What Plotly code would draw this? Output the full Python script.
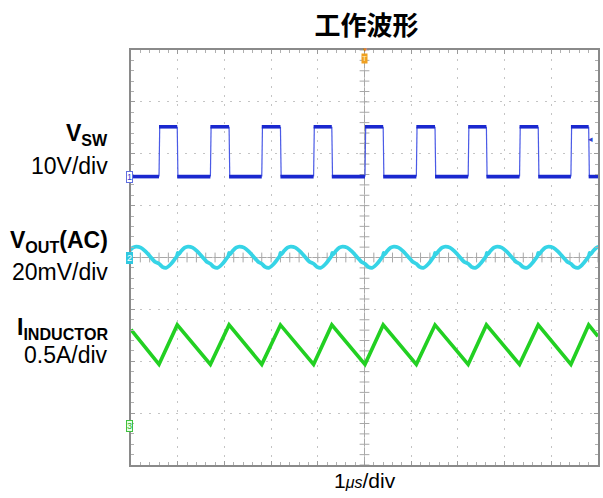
import plotly.graph_objects as go

# ---------------- data (time in µs, 1 µs/div; vertical in screen divisions) ----------------
vsw_rise = [-4.40, -3.30, -2.20, -1.09, 0.01, 1.11, 2.22, 3.32, 4.42]
vsw_fall = [-4.01, -2.90, -1.80, -0.70, 0.40, 1.51, 2.61, 3.72, 4.80]
vsw_low = 1.56
vsw_high = 2.52

vout_cycle_starts = [-5.51, -4.40, -3.30, -2.20, -1.09, 0.01, 1.11, 2.22, 3.32, 4.42]
vout_offsets = [0.00, 0.07, 0.15, 0.24, 0.33, 0.385, 0.40, 0.42, 0.48, 0.55, 0.62, 0.72, 0.82, 0.92, 1.02]
vout_values = [-0.12, -0.18, -0.20, -0.14, -0.04, 0.03, 0.09, 0.06, 0.13, 0.19, 0.21, 0.19, 0.12, 0.02, -0.08]

il_t = [-5.0, -4.40, -4.01, -3.30, -2.90, -2.20, -1.80, -1.09, -0.70, 0.01,
        0.40, 1.11, 1.51, 2.22, 2.61, 3.32, 3.72, 4.42, 4.80, 5.0]
il_v = [-1.39, -2.06, -1.30, -2.06, -1.30, -2.06, -1.30, -2.06, -1.30, -2.06,
        -1.30, -2.06, -1.30, -2.06, -1.30, -2.06, -1.30, -2.06, -1.30, -1.52]

ch_refs = [1.56, 0.0, -3.24]          # channel ground markers (divisions)
x_range = [-5, 5]
y_range = [-4, 4]

# ---------------- build traces ----------------
fig = go.Figure()

# VSW flat portions (thick, noisy look) and edges (thin)
fx, fy = [x_range[0], vsw_rise[0], None], [vsw_low, vsw_low, None]
for i, r in enumerate(vsw_rise):
    f = vsw_fall[i]
    nxt = vsw_rise[i + 1] if i + 1 < len(vsw_rise) else x_range[1]
    fx += [r, f, None, f, nxt, None]
    fy += [vsw_high, vsw_high, None, vsw_low, vsw_low, None]
ex, ey = [], []
for r in vsw_rise:
    ex += [r, r + 0.015, None]
    ey += [vsw_low, vsw_high, None]
for f in vsw_fall:
    ex += [f, f + 0.015, None]
    ey += [vsw_high, vsw_low, None]

# VOUT ripple
vx, vy = [], []
for s in vout_cycle_starts:
    for o, v in zip(vout_offsets, vout_values):
        vx.append(s + o)
        vy.append(v)

# center-cross tick marks
tick_x = [x_range[0] + 0.2 * k for k in range(51)]
tick_y = [y_range[0] + 0.2 * k for k in range(41)]
fig.add_trace(go.Scatter(x=tick_x, y=[0] * len(tick_x), mode="markers",
                         marker=dict(symbol="line-ns", size=7, line=dict(width=1, color="#a8a8a8")),
                         hoverinfo="skip", showlegend=False))
fig.add_trace(go.Scatter(x=[0] * len(tick_y), y=tick_y, mode="markers",
                         marker=dict(symbol="line-ew", size=7, line=dict(width=1, color="#a8a8a8")),
                         hoverinfo="skip", showlegend=False))

fig.add_trace(go.Scatter(x=ex, y=ey, mode="lines", line=dict(color="#4a5ae6", width=1.2),
                         hoverinfo="skip", showlegend=False))
fig.add_trace(go.Scatter(x=fx, y=fy, mode="lines", line=dict(color="#1a28cf", width=3.6),
                         hoverinfo="skip", showlegend=False))
fig.add_trace(go.Scatter(x=vx, y=vy, mode="lines", line=dict(color="#36d4e6", width=3.8, shape="spline", smoothing=0.5),
                         hoverinfo="skip", showlegend=False))
fig.add_trace(go.Scatter(x=il_t, y=il_v, mode="lines", line=dict(color="#22d022", width=3.6),
                         hoverinfo="skip", showlegend=False))

# center lines
fig.add_shape(type="line", x0=x_range[0], x1=x_range[1], y0=0, y1=0,
              line=dict(color="#a8a8a8", width=1), layer="below")
fig.add_shape(type="line", x0=0, x1=0, y0=y_range[0], y1=y_range[1],
              line=dict(color="#a8a8a8", width=1), layer="below")

# ---------------- annotations ----------------
FONT = "Liberation Sans, Arial, sans-serif"
lab_x = -0.045
labels = [
    ("<b>V<sub>SW</sub></b>", 2.37),
    ("10V/div", 1.77),
    ("<b>V<sub>OUT</sub>(AC)</b>", 0.30),
    ("20mV/div", -0.27),
    ("<b>I<sub>INDUCTOR</sub></b>", -1.36),
    ("0.5A/div", -1.88),
]
for txt, yy in labels:
    fig.add_annotation(x=lab_x, xref="paper", y=yy, yref="y", text=txt, showarrow=False,
                       xanchor="right", yanchor="middle", font=dict(family=FONT, size=23, color="black"))

# channel markers
fig.add_annotation(x=-0.011, xref="paper", y=ch_refs[0], yref="y", text="1", showarrow=False,
                   font=dict(family=FONT, size=9, color="#3040d0"), bordercolor="#6070e0",
                   borderwidth=1, borderpad=0, bgcolor="white")
fig.add_annotation(x=-0.011, xref="paper", y=ch_refs[1], yref="y", text="2", showarrow=False,
                   font=dict(family=FONT, size=9, color="white"), bordercolor="#30c8e0",
                   borderwidth=1, borderpad=0, bgcolor="#30c8e0")
fig.add_annotation(x=-0.011, xref="paper", y=ch_refs[2], yref="y", text="3", showarrow=False,
                   font=dict(family=FONT, size=9, color="#30b030"), bordercolor="#40c040",
                   borderwidth=1, borderpad=0, bgcolor="#e8ffe8")
# trigger markers
fig.add_annotation(x=0, xref="x", y=1.0, yref="paper", text="T", showarrow=False, yanchor="top",
                   yshift=-3, font=dict(family=FONT, size=8, color="#fff0c0"), bgcolor="#f0a020",
                   borderpad=0)
fig.add_annotation(x=0, xref="x", y=1.0, yref="paper", text="▼", showarrow=False, yanchor="middle",
                   font=dict(family=FONT, size=6, color="#f08010"))
fig.add_annotation(x=0.994, xref="paper", y=2.29, yref="y", text="◂", showarrow=False,
                   font=dict(family=FONT, size=9, color="#3040d0"))

fig.add_annotation(x=0.5, xref="paper", y=-0.006, yref="paper", yanchor="top",
                   text="1<span style='font-size:16px'><i>μs</i></span>/div",
                   showarrow=False, font=dict(family=FONT, size=21, color="black"))

fig.update_layout(
    width=603, height=498,
    margin=dict(l=131, r=3, t=50, b=33),
    paper_bgcolor="white", plot_bgcolor="white",
    title=dict(text="<b>工作波形</b>", x=0.608, xanchor="center", y=0.948, yanchor="middle",
               font=dict(family="Noto Sans CJK SC", size=26, color="black")),
    showlegend=False,
)
axis_common = dict(showgrid=True, gridcolor="#c4c4c4", gridwidth=1, griddash="2px,7px",
                   zeroline=False, showline=True, linecolor="#8a8a8a", linewidth=1.5, mirror="allticks",
                   ticks="inside", ticklen=4, tickcolor="#9a9a9a", showticklabels=False,
                   minor=dict(ticks="inside", ticklen=3, dtick=0.2, tickcolor="#b0b0b0", showgrid=False),
                   fixedrange=True)
fig.update_xaxes(range=x_range, dtick=1, tick0=0, **axis_common)
fig.update_yaxes(range=y_range, dtick=1, tick0=0, **axis_common)

fig.write_html("out.html")
